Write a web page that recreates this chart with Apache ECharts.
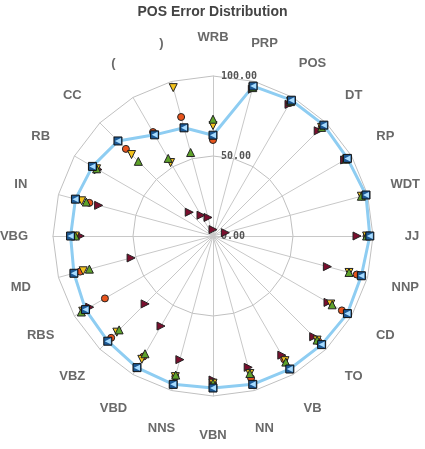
<!DOCTYPE html>
<html>
<head>
<meta charset="utf-8">
<script src="https://cdn.jsdelivr.net/npm/echarts@6/dist/echarts.min.js"></script>
<style>
  html, body { margin: 0; padding: 0; background: #fff; }
  #main { width: 425px; height: 449px; }
</style>
</head>
<body>
<div id="main"></div>
<script type="text/javascript">
    // categories clockwise from the top
    var cats = ['WRB', 'PRP', 'POS', 'DT', 'RP', 'WDT', 'JJ', 'NNP', 'CD', 'TO', 'VB', 'NN',
        'VBN', 'NNS', 'VBD', 'VBZ', 'RBS', 'MD', 'VBG', 'IN', 'RB', 'CC', '(', ')'];
    var blueVals = [63, 97, 98, 98, 97, 99, 98, 96, 97, 96, 96, 96,
        95, 96, 95, 93, 92, 90, 89, 89, 87, 84, 73, 70];
    var greenVals = [73, 96, 97, 96, 96, 96, 96, 88, 86, 92, 91, 89,
        92, 90, 85, 83, 95, 80, 86, 82, 84, 66, 56, 54];
    var yellowVals = [69, 96, 97, 96, 96, 96, 96, 88, 85, 92, 90, 89,
        92, 91, 89, 85, 94, 84, 86, 85, 84, 72, 53, 96];
    var orangeVals = [60, 96, 96, 96, 96, 97, 96, 93, 93, 93, 89, 92,
        92, 91, 87, 90, 78, 86, 86, 80, 84, 77, 75, 77];
    var redVals = [4, 95, 95, 93, 95, 8, 90, 74, 83, 89, 86, 85,
        90, 80, 65, 60, 89, 53, 83, 74, 83, 21, 15, 12];

    var cx = 213, cy = 236;
    var font = 'Liberation Sans';

    // radar goes counter-clockwise, so keep the first one and reverse the rest
    var order = [0];
    for (var i = cats.length - 1; i > 0; i--) order.push(i);
    function pick(arr) { return order.map(function (k) { return arr[k]; }); }

    var indicator = order.map(function (k, n) {
        var ind = { name: cats[k], min: 0, max: 100 };
        if (n === 0) ind.axisLabel = { show: true };
        return ind;
    });

    function marks(name, vals, symbol, rotate, color, size) {
        return {
            name: name,
            type: 'radar',
            symbol: symbol,
            symbolSize: size || 8,
            symbolRotate: rotate,
            lineStyle: { width: 0, opacity: 0 },
            itemStyle: { color: color, borderColor: '#222', borderWidth: 1 },
            data: [{ value: pick(vals) }]
        };
    }

    var myChart = echarts.init(document.getElementById('main'));
    var option = {
        animation: false,
        title: {
            text: 'POS Error Distribution',
            left: 'center',
            top: 0,
            textStyle: { fontFamily: font, fontSize: 14, fontWeight: 'bold', color: '#444' }
        },
        radar: {
            center: [cx, cy],
            radius: 160,
            shape: 'polygon',
            splitNumber: 2,
            axisName: { show: false },
            axisLine: { lineStyle: { color: '#c8c8c8' } },
            splitLine: { lineStyle: { color: '#c0c0c0' } },
            splitArea: { show: false },
            axisLabel: {
                show: false,
                color: '#555',
                fontFamily: 'DejaVu Sans Mono',
                fontSize: 10,
                fontWeight: 'bold',
                margin: -8,
                align: 'left',
                formatter: function (v) { return v.toFixed(2); }
            },
            indicator: indicator
        },
        // a hidden polar frame only for placing the category names centred around the chart
        polar: { center: [cx, cy], radius: 199 },
        angleAxis: { type: 'category', data: cats, startAngle: 97.5, show: false },
        radiusAxis: { min: 0, max: 100, show: false },
        series: [
            marks('red', redVals, 'triangle', -90, '#7a0f2e'),
            marks('orange', orangeVals, 'circle', 0, '#e8541c', 7),
            marks('yellow', yellowVals, 'triangle', 180, '#f2c21c'),
            marks('green', greenVals, 'triangle', 0, '#5ea22a'),
            {
                name: 'blue',
                type: 'radar',
                symbol: 'rect',
                symbolSize: 8,
                lineStyle: { color: '#8ecdf2', width: 3 },
                itemStyle: { color: '#1d5a96', borderColor: '#111', borderWidth: 1 },
                data: [{ value: pick(blueVals) }]
            },
            {
                name: 'blueArrow',
                type: 'radar',
                symbol: 'triangle',
                symbolSize: 6,
                symbolRotate: 90,
                lineStyle: { width: 0, opacity: 0 },
                itemStyle: { color: '#a8dcff' },
                data: [{ value: pick(blueVals) }]
            },
            {
                name: 'names',
                type: 'scatter',
                coordinateSystem: 'polar',
                symbolSize: 1,
                itemStyle: { color: 'transparent' },
                label: {
                    show: true,
                    position: 'inside',
                    fontFamily: font,
                    fontSize: 13,
                    fontWeight: 'bold',
                    color: '#444',
                    formatter: function (p) { return cats[p.dataIndex]; }
                },
                data: cats.map(function (c) { return [100, c]; })
            }
        ]
    };
    myChart.setOption(option);
</script>
</body>
</html>
